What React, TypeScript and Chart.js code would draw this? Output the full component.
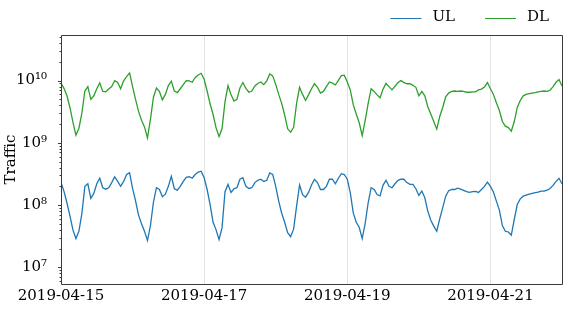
import React, { useEffect, useRef } from 'react';
import { Chart, registerables } from 'chart.js';

Chart.register(...registerables);

// Hourly samples starting 2019-04-15 00:00 (UTC)
const START_DATE = Date.UTC(2019, 3, 15);

const UL_VALUES = [
  2.3e8, 1.66e8, 1.08e8, 6.7e7, 4.0e7, 2.9e7, 3.8e7, 7.3e7, 2.0e8, 2.2e8,
  1.28e8, 1.54e8, 2.2e8, 2.7e8, 1.9e8, 1.8e8, 1.9e8, 2.3e8, 2.85e8, 2.4e8,
  2.0e8, 2.4e8, 3.1e8, 3.3e8, 1.85e8, 1.17e8, 6.9e7, 5.0e7, 3.8e7, 2.7e7,
  4.7e7, 1.12e8, 1.9e8, 1.78e8, 1.36e8, 1.5e8, 2.0e8, 2.9e8, 1.83e8, 1.74e8,
  2.0e8, 2.4e8, 2.8e8, 2.85e8, 2.7e8, 3.1e8, 3.4e8, 3.5e8, 2.75e8, 1.78e8,
  1.02e8, 5.3e7, 4.0e7, 2.8e7, 4.3e7, 1.64e8, 2.15e8, 1.6e8, 1.83e8, 1.9e8,
  2.6e8, 2.75e8, 2.0e8, 1.85e8, 1.9e8, 2.3e8, 2.5e8, 2.6e8, 2.4e8, 2.5e8,
  3.3e8, 3.1e8, 2.0e8, 1.16e8, 7.4e7, 5.3e7, 3.6e7, 3.1e7, 4.1e7, 9.6e7,
  2.1e8, 1.47e8, 1.34e8, 1.6e8, 2.1e8, 2.6e8, 2.3e8, 1.78e8, 1.78e8, 2.0e8,
  2.6e8, 2.6e8, 2.2e8, 2.7e8, 3.2e8, 3.1e8, 2.6e8, 1.58e8, 7.5e7, 5.3e7,
  4.4e7, 2.9e7, 5.1e7, 1.09e8, 1.9e8, 1.78e8, 1.48e8, 1.41e8, 2.1e8, 2.5e8,
  2.0e8, 1.9e8, 2.2e8, 2.5e8, 2.6e8, 2.6e8, 2.3e8, 2.15e8, 2.15e8, 1.83e8,
  1.43e8, 1.68e8, 1.31e8, 8.0e7, 5.7e7, 4.6e7, 3.8e7, 6.0e7, 9.1e7, 1.39e8,
  1.7e8, 1.78e8, 1.78e8, 1.87e8, 1.8e8, 1.72e8, 1.64e8, 1.6e8, 1.64e8, 1.66e8,
  1.6e8, 1.78e8, 2.0e8, 2.34e8, 2.0e8, 1.62e8, 1.16e8, 8.3e7, 4.7e7, 3.8e7,
  3.7e7, 3.3e7, 5.9e7, 1.02e8, 1.26e8, 1.39e8, 1.45e8, 1.5e8, 1.54e8, 1.58e8,
  1.62e8, 1.68e8, 1.68e8, 1.74e8, 1.85e8, 2.07e8, 2.4e8, 2.7e8, 2.2e8,
];

const DL_VALUES = [
  9.1e9, 7.5e9, 5.7e9, 3.7e9, 2.15e9, 1.33e9, 1.7e9, 3.0e9, 6.8e9, 8.0e9,
  5.0e9, 5.7e9, 7.4e9, 9.2e9, 6.7e9, 6.6e9, 7.3e9, 8.0e9, 1.0e10, 9.3e9,
  7.4e9, 9.9e9, 1.16e10, 1.33e10, 8.0e9, 5.0e9, 3.2e9, 2.3e9, 1.8e9, 1.2e9,
  2.4e9, 5.4e9, 7.6e9, 6.7e9, 4.9e9, 6.0e9, 8.3e9, 9.8e9, 6.8e9, 6.4e9,
  7.4e9, 8.6e9, 1.0e10, 9.9e9, 9.4e9, 1.12e10, 1.23e10, 1.31e10, 1.05e10, 6.8e9,
  4.2e9, 2.85e9, 1.74e9, 1.26e9, 1.7e9, 4.6e9, 8.3e9, 6.0e9, 4.7e9, 5.0e9,
  7.6e9, 9.3e9, 7.5e9, 6.5e9, 6.8e9, 8.2e9, 9.0e9, 9.5e9, 8.6e9, 9.9e9,
  1.28e10, 1.19e10, 8.7e9, 6.0e9, 4.3e9, 2.8e9, 1.68e9, 1.48e9, 1.78e9, 4.3e9,
  7.8e9, 6.0e9, 4.8e9, 5.9e9, 7.4e9, 8.9e9, 7.8e9, 6.3e9, 6.7e9, 8.0e9,
  9.5e9, 9.1e9, 8.5e9, 1.01e10, 1.2e10, 1.22e10, 9.5e9, 7.1e9, 4.1e9, 2.9e9,
  2.1e9, 1.31e9, 2.3e9, 4.3e9, 7.4e9, 6.7e9, 5.9e9, 5.3e9, 7.3e9, 9.0e9,
  8.0e9, 7.1e9, 8.1e9, 9.3e9, 1.0e10, 9.3e9, 8.9e9, 8.9e9, 8.4e9, 7.8e9,
  5.7e9, 6.7e9, 5.7e9, 3.8e9, 2.9e9, 2.2e9, 1.66e9, 2.65e9, 3.7e9, 5.5e9,
  6.3e9, 6.7e9, 6.8e9, 6.7e9, 6.8e9, 6.7e9, 6.5e9, 6.5e9, 6.6e9, 6.6e9,
  7.1e9, 7.3e9, 7.9e9, 9.3e9, 7.4e9, 6.0e9, 4.4e9, 3.3e9, 2.2e9, 1.85e9,
  1.76e9, 1.54e9, 2.2e9, 3.7e9, 4.8e9, 5.7e9, 6.0e9, 6.2e9, 6.3e9, 6.4e9,
  6.6e9, 6.7e9, 6.8e9, 6.7e9, 7.0e9, 8.0e9, 9.4e9, 1.04e10, 8.2e9,
];

const SERIES_LABELS = ['UL', 'DL'];
const SERIES_COLORS = ['#1f77b4', '#2ca02c'];

const X_TICK_HOURS = [0, 48, 96, 144];
const Y_MAJOR_TICKS = [1e7, 1e8, 1e9, 1e10];
const Y_TICK_LABELS = ['10⁷', '10⁸', '10⁹', '10¹⁰'];
const Y_MIN = 5.4e6;
const Y_MAX = 5.4e10;

const FONT = "'DejaVu Serif', serif";
const SPINE = '#3a3a3a';

function hourLabel(h: number): string {
  return new Date(START_DATE + h * 3600 * 1000).toISOString().slice(0, 10);
}

const framePlugin = {
  id: 'frame',
  afterDatasetsDraw(chart: any) {
    const { ctx, chartArea } = chart;
    const { left, right, top, bottom } = chartArea;
    const yScale = chart.scales.y;
    ctx.save();
    ctx.strokeStyle = SPINE;
    ctx.lineWidth = 1;
    ctx.beginPath();
    ctx.rect(Math.round(left) + 0.5, Math.round(top) + 0.5, Math.round(right - left), Math.round(bottom - top));
    ctx.stroke();
    // y tick marks (major and minor)
    ctx.beginPath();
    for (const t of yScale.ticks) {
      const y = Math.round(yScale.getPixelForValue(t.value)) + 0.5;
      const major = Y_MAJOR_TICKS.includes(t.value);
      const len = major ? 3.5 : 2;
      ctx.moveTo(Math.round(left) + 0.5, y);
      ctx.lineTo(Math.round(left) + 0.5 - len, y);
    }
    ctx.stroke();
    ctx.restore();
  },
  afterDraw(chart: any) {
    // legend, drawn right-to-left from the top right corner
    const { ctx } = chart;
    ctx.save();
    ctx.font = `15px ${FONT}`;
    ctx.textBaseline = 'middle';
    ctx.textAlign = 'left';
    const y = 17.5;
    let right = chart.width - 19;
    const ds = chart.data.datasets;
    for (let i = ds.length - 1; i >= 0; i--) {
      const text = ds[i].label as string;
      const w = ctx.measureText(text).width;
      const tx = right - w;
      const lineEnd = tx - 11;
      const lineStart = lineEnd - 31;
      ctx.fillStyle = '#000';
      ctx.fillText(text, tx, y);
      ctx.strokeStyle = ds[i].borderColor;
      ctx.lineWidth = 1;
      ctx.beginPath();
      ctx.moveTo(lineStart, Math.round(y) + 0.5);
      ctx.lineTo(lineEnd, Math.round(y) + 0.5);
      ctx.stroke();
      right = lineStart - 30;
    }
    ctx.restore();
  },
};

export default function App() {
  const canvasRef = useRef<HTMLCanvasElement | null>(null);

  useEffect(() => {
    if (!canvasRef.current) return;
    const series = [UL_VALUES, DL_VALUES];
    const chart = new Chart(canvasRef.current, {
      type: 'line',
      data: {
        datasets: series.map((vals, k) => ({
          label: SERIES_LABELS[k],
          data: vals.map((v, i) => ({ x: i, y: v })),
          borderColor: SERIES_COLORS[k],
          backgroundColor: SERIES_COLORS[k],
          borderWidth: 1.3,
          pointRadius: 0,
          tension: 0,
          fill: false,
        })),
      },
      options: {
        animation: false,
        responsive: false,
        maintainAspectRatio: false,
        devicePixelRatio: 1,
        events: [],
        layout: { padding: { top: 35, right: 6, left: 0, bottom: 0 } },
        plugins: {
          legend: { display: false },
          tooltip: { enabled: false },
        },
        scales: {
          x: {
            type: 'linear',
            min: 0,
            max: UL_VALUES.length - 1,
            afterBuildTicks: (s: any) => {
              s.ticks = X_TICK_HOURS.map((v) => ({ value: v }));
            },
            afterFit: (s: any) => {
              s.height = 26;
            },
            ticks: {
              callback: (v: any) => hourLabel(Number(v)),
              font: { family: FONT, size: 15 },
              color: '#000',
              maxRotation: 0,
              autoSkip: false,
              padding: 3,
            },
            grid: {
              display: true,
              drawOnChartArea: true,
              drawTicks: false,
              color: '#e3e3e3',
              lineWidth: 1,
            },
            border: { display: false },
          },
          y: {
            type: 'logarithmic',
            min: Y_MIN,
            max: Y_MAX,
            afterBuildTicks: (s: any) => {
              const ticks: { value: number }[] = [];
              for (let e = 6; e <= 10; e++) {
                for (let m = 1; m <= 9; m++) {
                  const v = m * Math.pow(10, e);
                  if (v >= Y_MIN && v <= Y_MAX) ticks.push({ value: v });
                }
              }
              s.ticks = ticks;
            },
            afterFit: (s: any) => {
              s.width = 61;
            },
            ticks: {
              callback: (v: any) => {
                const idx = Y_MAJOR_TICKS.indexOf(Number(v));
                return idx >= 0 ? Y_TICK_LABELS[idx] : '';
              },
              font: { family: FONT, size: 15 },
              color: '#000',
              autoSkip: false,
              padding: 6,
            },
            grid: { display: false },
            border: { display: false },
            title: {
              display: true,
              text: 'Traffic',
              font: { family: FONT, size: 15 },
              color: '#000',
              padding: { top: 2, bottom: 0 },
            },
          },
        },
      },
      plugins: [framePlugin],
    } as any);
    return () => chart.destroy();
  }, []);

  return (
    <div style={{ position: 'fixed', left: 0, top: 0, width: 568, height: 310, background: '#fff' }}>
      <canvas ref={canvasRef} width={568} height={310} style={{ width: 568, height: 310, display: 'block' }} />
    </div>
  );
}
